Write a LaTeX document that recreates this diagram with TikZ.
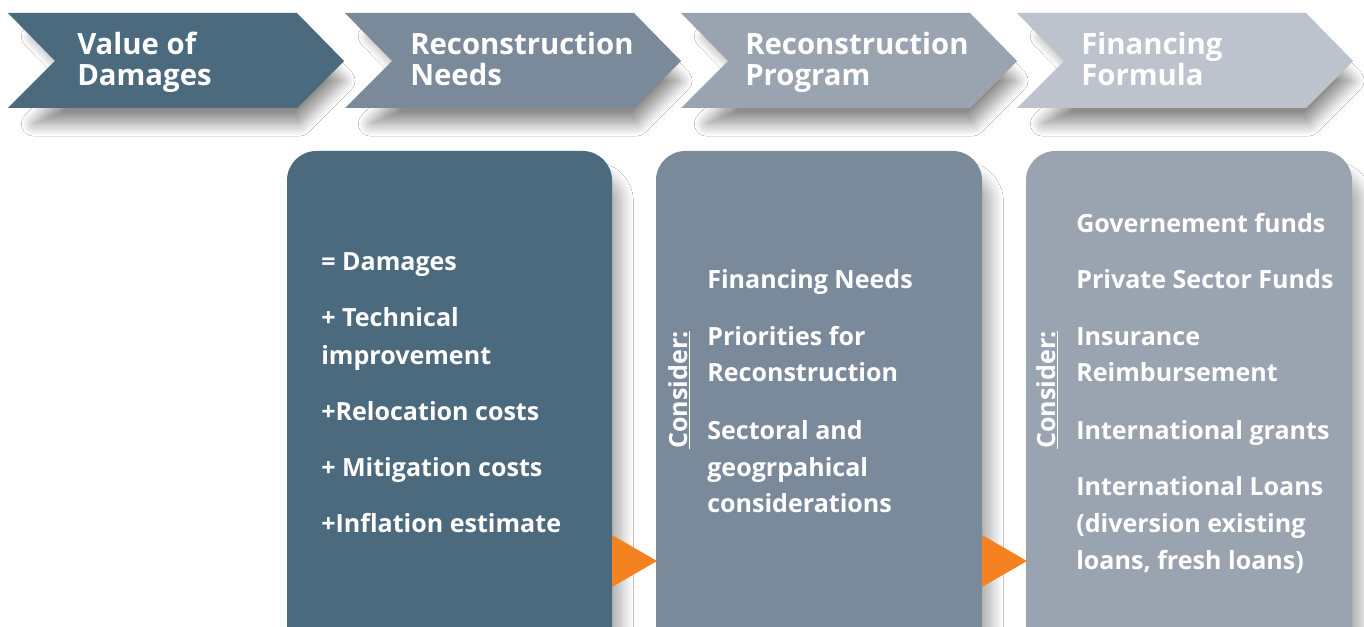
\documentclass[tikz,border=0pt]{standalone}
\usepackage{fontspec}
\setmainfont{Open Sans}
\usetikzlibrary{shadows.blur}
\definecolor{cA}{HTML}{4C6A7E}
\definecolor{cB}{HTML}{7A8A9B}
\definecolor{cC}{HTML}{9AA4B1}
\definecolor{cD}{HTML}{BCC3CD}
\definecolor{orng}{HTML}{F58220}
\begin{document}
\begin{tikzpicture}[x=0.75pt,y=-0.75pt,
  chevshadow/.style={blur shadow={shadow xshift=10pt,shadow yshift=-16pt,shadow scale=0.92,shadow blur radius=10pt,shadow blur steps=14,shadow opacity=45}},
  boxshadow/.style={blur shadow={shadow xshift=8pt,shadow yshift=-16pt,shadow blur radius=8pt,shadow blur steps=12,shadow opacity=30}},
  chevtext/.style={anchor=base west,inner sep=0pt,text=white,font=\fontsize{22}{24}\selectfont\bfseries},
  itemtext/.style={anchor=base west,inner sep=0pt,text=white,font=\fontsize{18.8}{22}\selectfont\bfseries},
  considertext/.style={rotate=90,inner sep=0pt,text=white,font=\fontsize{18.8}{22}\selectfont\bfseries},
  tri/.style={fill=orng}]
\useasboundingbox (0,0) rectangle (1364,627);
\clip (0,0) rectangle (1364,627);
\fill[white] (0,0) rectangle (1364,627);

% chevrons
\foreach \xo/\col in {8/cA,345/cB,681/cC,1017/cD}{
  \fill[\col,chevshadow] (\xo,13) -- (\xo+289,13) -- (\xo+336,61) -- (\xo+289,108) -- (\xo,108) -- (\xo+47,61) -- cycle;
}
\node[chevtext] (c1a) at (77,55) {Value of};
\node[chevtext] (c1b) at (77,86) {Damages};
\node[chevtext] (c2a) at (410,55) {Reconstruction};
\node[chevtext] (c2b) at (410,86) {Needs};
\node[chevtext] (c3a) at (745,55) {Reconstruction};
\node[chevtext] (c3b) at (745,86) {Program};
\node[chevtext] (c4a) at (1081,55) {Financing};
\node[chevtext] (c4b) at (1081,86) {Formula};

% boxes
\fill[cA,rounded corners=22pt,boxshadow] (287,151) rectangle (612,680);
\fill[cB,rounded corners=22pt,boxshadow] (656,151) rectangle (982,680);
\fill[cC,rounded corners=22pt,boxshadow] (1026,151) rectangle (1352,680);

% orange triangles
\fill[tri] (612,535) -- (657,561) -- (612,587) -- cycle;
\fill[tri] (982,535) -- (1027,561) -- (982,587) -- cycle;

% box 1 text
\node[itemtext] (a1) at (321,271) {= Damages};
\node[itemtext] (a2) at (321,327) {+ Technical};
\node[itemtext] (a3) at (321,364) {improvement};
\node[itemtext] (a4) at (321,420) {+Relocation costs};
\node[itemtext] (a5) at (321,476) {+ Mitigation costs};
\node[itemtext] (a6) at (321,532) {+Inflation estimate};

% box 2 text
\node[considertext] (k1) at (679,390) {\underline{Consider:}};
\node[itemtext] (b1) at (707,289) {Financing Needs};
\node[itemtext] (b2) at (707,345) {Priorities for};
\node[itemtext] (b3) at (707,382) {Reconstruction};
\node[itemtext] (b4) at (707,439) {Sectoral and};
\node[itemtext] (b5) at (707,476) {geogrpahical};
\node[itemtext] (b6) at (707,512) {considerations};

% box 3 text
\node[considertext] (k2) at (1047,390) {\underline{Consider:}};
\node[itemtext] (d1) at (1076,233) {Governement funds};
\node[itemtext] (d2) at (1076,289) {Private Sector Funds};
\node[itemtext] (d3) at (1076,345) {Insurance};
\node[itemtext] (d4) at (1076,382) {Reimbursement};
\node[itemtext] (d5) at (1076,439) {International grants};
\node[itemtext] (d6) at (1076,495) {International Loans};
\node[itemtext] (d7) at (1076,532) {(diversion existing};
\node[itemtext] (d8) at (1076,569) {loans, fresh loans)};
\end{tikzpicture}
\end{document}
